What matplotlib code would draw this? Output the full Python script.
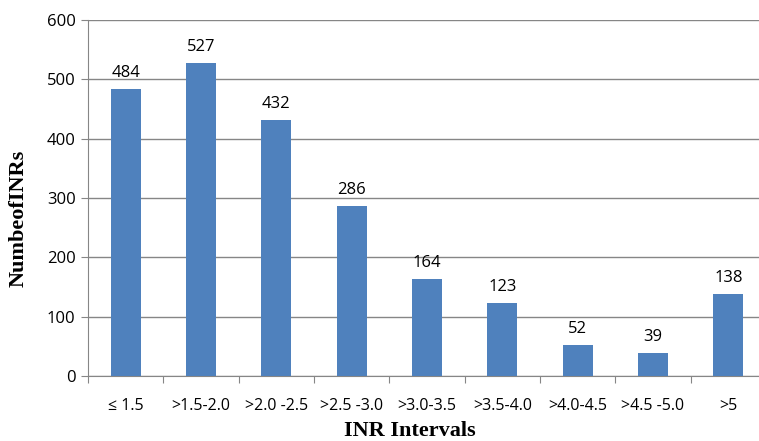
import matplotlib.pyplot as plt

categories = ["\u2264 1.5", ">1.5-2.0", ">2.0 -2.5", ">2.5 -3.0", ">3.0-3.5",
              ">3.5-4.0", ">4.0-4.5", ">4.5 -5.0", ">5"]
counts = [484, 527, 432, 286, 164, 123, 52, 39, 138]
y_ticks = [0, 100, 200, 300, 400, 500, 600]

W, H = 759, 441
fig = plt.figure(figsize=(W / 100, H / 100), dpi=100)
left, right, top, bottom = 88, 766, 20, 376
ax = fig.add_axes([left / W, 1 - bottom / H, (right - left) / W, (bottom - top) / H])

x = range(len(categories))
ax.bar(x, counts, width=0.4, color="#4F81BD", zorder=3)
for xi, v in zip(x, counts):
    ax.text(xi, v + 20, str(v), ha="center", va="baseline", fontsize=12,
            family="Open Sans", color="#000000")

ax.set_xlim(-0.5, len(categories) - 0.5)
ax.set_ylim(0, 600)
ax.set_yticks(y_ticks)
ax.set_yticklabels([str(t) for t in y_ticks], family="Open Sans", fontsize=12)
ax.yaxis.grid(True, color="#868686", linewidth=1, zorder=0)

# category boundaries carry the tick marks, names sit in between
ax.set_xticks([i + 0.5 for i in range(-1, len(categories))], minor=False)
ax.set_xticklabels([])
ax.set_xticks(list(x), minor=True)
ax.set_xticklabels(categories, minor=True, family="Open Sans", fontsize=11.5)
ax.tick_params(axis="x", which="minor", length=0, pad=16)
ax.tick_params(axis="x", which="major", length=5, color="#868686")
ax.tick_params(axis="y", length=5, color="#868686", pad=4)

for s in ["top", "right"]:
    ax.spines[s].set_visible(False)
for s in ["left", "bottom"]:
    ax.spines[s].set_color("#868686")

ax.set_xlabel("INR Intervals", family="Liberation Serif", fontweight="bold",
              fontsize=16, va="center")
ax.set_ylabel("NumbeofINRs", family="Liberation Serif", fontweight="bold",
              fontsize=16, va="center")
ax.xaxis.set_label_coords((410 - left) / (right - left), -(431 - bottom) / (bottom - top))
ax.yaxis.set_label_coords(-(left - 19) / (right - left), (bottom - 218) / (bottom - top))

fig.savefig("out.png", dpi=100)
